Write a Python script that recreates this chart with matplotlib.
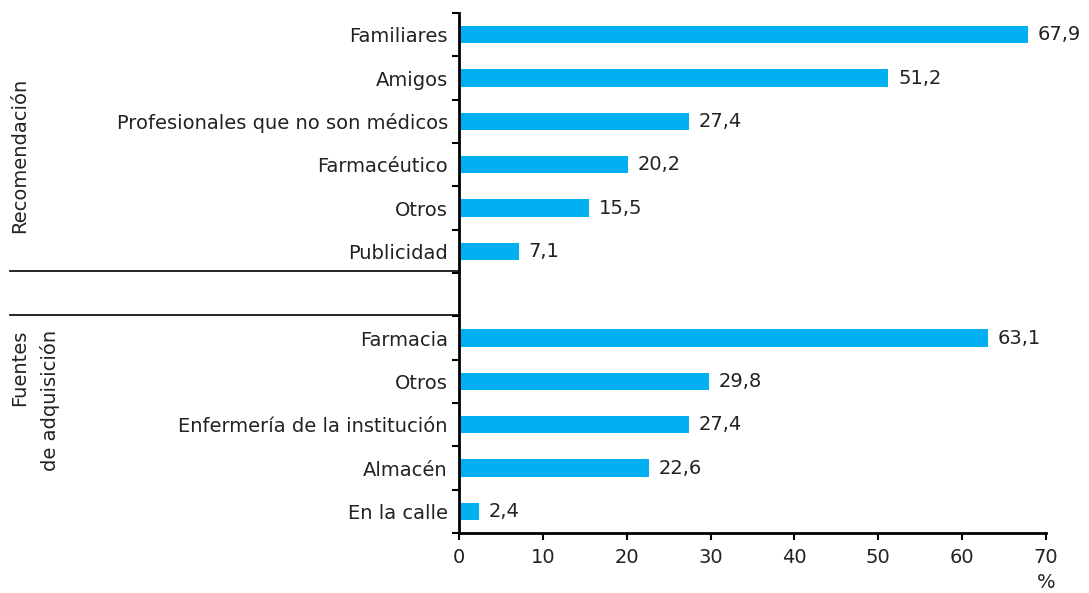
import matplotlib
matplotlib.use("Agg")
import matplotlib.pyplot as plt
import numpy as np

categories = ["Familiares", "Amigos", "Profesionales que no son médicos", "Farmacéutico",
              "Otros", "Publicidad", "", "Farmacia", "Otros", "Enfermería de la institución",
              "Almacén", "En la calle"]
values = [67.9, 51.2, 27.4, 20.2, 15.5, 7.1, None, 63.1, 29.8, 27.4, 22.6, 2.4]
xticks = [0, 10, 20, 30, 40, 50, 60, 70]
group1 = "Recomendación"
group2_lines = ["Fuentes", "de adquisición"]

W, H = 1089, 593
FS = 14
TC = "#222222"
fig = plt.figure(figsize=(W / 100, H / 100), dpi=100)
ax = fig.add_axes([459 / W, 1 - 533 / H, (1046 - 459) / W, (533 - 13) / H])

color = "#00B0F0"
pos = np.arange(len(categories))
for p, v in zip(pos, values):
    if v is None:
        continue
    ax.barh(p, v, height=0.4, color=color)
    ax.annotate(f"{v:.1f}".replace(".", ","), xy=(v, p), xytext=(7, 0),
                textcoords="offset points", va="center", ha="left",
                fontsize=FS, color=TC)

ax.set_ylim(len(categories) - 0.5, -0.5)
ax.set_xlim(0, 70)
ax.set_yticks(pos)
ax.set_yticklabels(categories, fontsize=FS, color=TC)
ax.tick_params(axis="y", which="major", length=0, pad=8)
ax.set_yticks(np.arange(-0.5, len(categories), 1.0), minor=True)
ax.tick_params(axis="y", which="minor", length=5, width=1.5, direction="out")
ax.set_xticks(xticks)
ax.set_xticklabels([str(t) for t in xticks], fontsize=FS, color=TC)
ax.tick_params(axis="x", length=5, width=1.5, direction="out", pad=6)

for s in ["top", "right"]:
    ax.spines[s].set_visible(False)
for s in ["left", "bottom"]:
    ax.spines[s].set_linewidth(2)
    ax.spines[s].set_color("black")

fig.text(1046 / W, 1 - 583 / H, "%", ha="center", va="center", fontsize=FS, color=TC)

# separator lines
for ypx in (270.5, 314.5):
    fig.add_artist(plt.Line2D([10 / W, 459 / W], [1 - ypx / H, 1 - ypx / H],
                              color="black", lw=1.2))

fig.text(20 / W, 1 - 78 / H, group1, rotation=90, rotation_mode="anchor",
         ha="right", va="center", fontsize=FS, color=TC)
fig.text(20 / W, 1 - 330 / H, group2_lines[0], rotation=90, rotation_mode="anchor",
         ha="right", va="center", fontsize=FS, color=TC)
fig.text(50 / W, 1 - 330 / H, group2_lines[1], rotation=90, rotation_mode="anchor",
         ha="right", va="center", fontsize=FS, color=TC)

fig.savefig("out.png", dpi=100)
